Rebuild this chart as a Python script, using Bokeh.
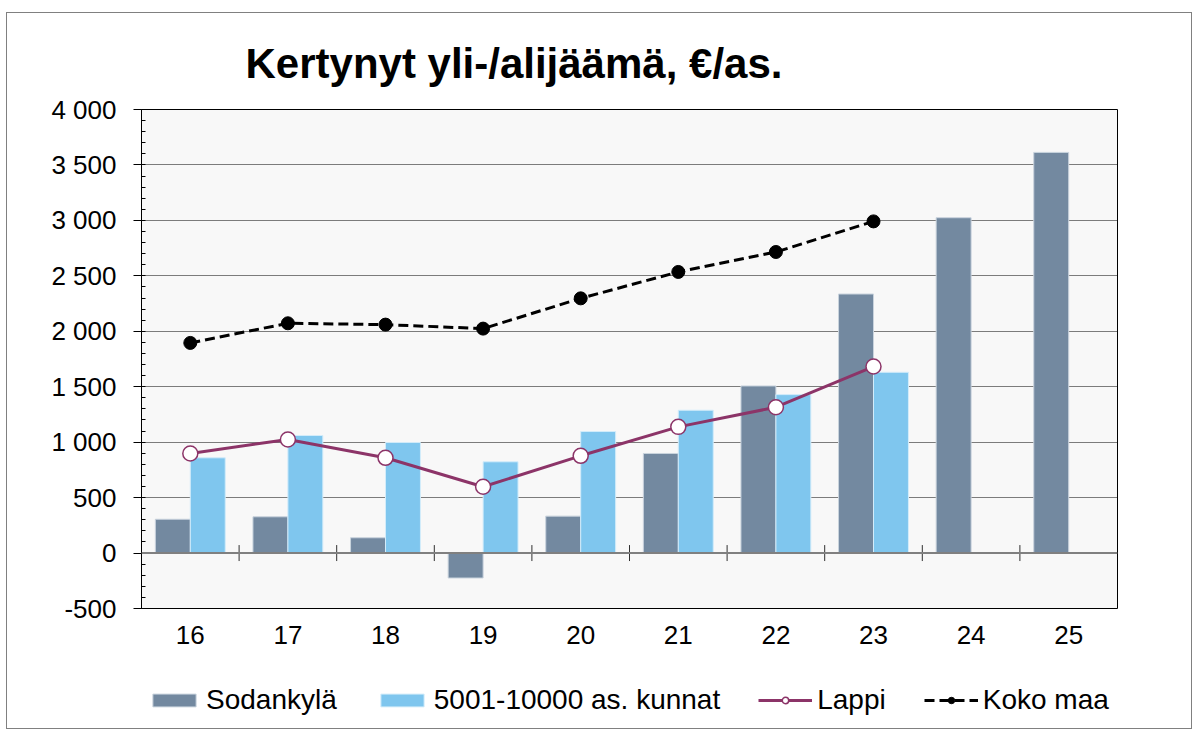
from bokeh.plotting import figure
from bokeh.layouts import column
from bokeh.models import (ColumnDataSource, FactorRange, Range1d, LinearAxis, CategoricalAxis,
                          SingleIntervalTicker, Legend, LegendItem, Title, Grid, Span)
from bokeh.transform import dodge
from bokeh.embed import file_html
from bokeh.resources import INLINE

# ---- data ----
years = ["16", "17", "18", "19", "20", "21", "22", "23", "24", "25"]
sodankyla = [305, 327, 138, -225, 333, 898, 1507, 2336, 3024, 3613]
kunnat_years = ["16", "17", "18", "19", "20", "21", "22", "23"]
kunnat = [859, 1060, 997, 823, 1096, 1288, 1429, 1630]
lappi_years = ["16", "17", "18", "19", "20", "21", "22", "23"]
lappi = [898, 1024, 859, 598, 877, 1138, 1315, 1682]
koko_years = ["16", "17", "18", "19", "20", "21", "22", "23"]
koko_maa = [1895, 2072, 2060, 2024, 2297, 2535, 2715, 2991]
y_ticks = [-500, 0, 500, 1000, 1500, 2000, 2500, 3000, 3500, 4000]
y_tick_labels = ["-500", "0", "500", "1 000", "1 500", "2 000", "2 500", "3 000", "3 500", "4 000"]
series_names = ["Sodankylä", "5001-10000 as. kunnat", "Lappi", "Koko maa"]
title_text = "Kertynyt yli-/alijäämä, €/as."

FONT = "Liberation Sans"
C_SOD = "#7389a0"
C_KUN = "#7fc6ee"
C_LAP = "#8c3468"

p = figure(x_range=FactorRange(*years, range_padding=0), y_range=Range1d(-500, 4000),
           frame_width=976, frame_height=499, output_backend="svg", toolbar_location=None,
           x_axis_type=None, y_axis_type=None,
           min_border_left=134, min_border_right=74, min_border_top=96, min_border_bottom=52,
           background_fill_color="#f8f8f8", border_fill_color="white",
           outline_line_color="black", outline_line_width=1)

# title
p.add_layout(Title(text=title_text, align="left", offset=104, standoff=45,
                   text_font=FONT, text_font_size="42px", text_font_style="bold",
                   text_color="black"), "above")

# y axis
yticker = SingleIntervalTicker(interval=500, num_minor_ticks=5)
yaxis = LinearAxis(ticker=yticker,
                   major_label_overrides={v: s for v, s in zip(y_ticks, y_tick_labels)},
                   major_label_text_font=FONT, major_label_text_font_size="26px",
                   major_label_text_color="black", major_label_standoff=17,
                   major_tick_in=0, major_tick_out=8, minor_tick_in=4, minor_tick_out=0,
                   axis_line_color="black", major_tick_line_color="black",
                   minor_tick_line_color="black")
p.add_layout(yaxis, "left")
p.add_layout(Grid(dimension=1, ticker=yticker, grid_line_color="#000000",
                  grid_line_dash="1 1", grid_line_width=1), "center")

# x axis (labels at the bottom)
xaxis = CategoricalAxis(major_label_text_font=FONT, major_label_text_font_size="26px",
                        major_label_text_color="black", major_label_standoff=17,
                        major_tick_in=0, major_tick_out=0, minor_tick_in=0, minor_tick_out=0,
                        axis_line_color=None)
p.add_layout(xaxis, "below")

# bars
src_s = ColumnDataSource(dict(x=years, top=sodankyla))
src_k = ColumnDataSource(dict(x=kunnat_years, top=kunnat))
bar_s = dict(fill_color=C_SOD, line_color="#c9d3dd", line_width=1)
bar_k = dict(fill_color=C_KUN, line_color="#d3ecfa", line_width=1)
p.vbar(x=dodge("x", -0.179, range=p.x_range), top="top", width=0.358, source=src_s, **bar_s)
p.vbar(x=dodge("x", 0.179, range=p.x_range), top="top", width=0.358, source=src_k, **bar_k)

# zero line with category boundary tick marks
p.add_layout(Span(location=0, dimension="width", line_color="#808080", line_width=2))
src_b = ColumnDataSource(dict(x=years[:-1]))
p.segment(x0=dodge("x", 0.5, range=p.x_range), x1=dodge("x", 0.5, range=p.x_range),
          y0=-72, y1=72, source=src_b, line_color="#303030", line_width=1)

# lines
src_l = ColumnDataSource(dict(x=lappi_years, y=lappi))
src_m = ColumnDataSource(dict(x=koko_years, y=koko_maa))
line_l = dict(line_color=C_LAP, line_width=3)
mark_l = dict(marker="circle", size=15, fill_color="white", line_color=C_LAP, line_width=1.5)
line_m = dict(line_color="black", line_width=3, line_dash="10 5")
mark_m = dict(marker="circle", size=13, fill_color="black", line_color="black")
p.line("x", "y", source=src_l, **line_l)
p.scatter("x", "y", source=src_l, **mark_l)
p.line("x", "y", source=src_m, **line_m)
p.scatter("x", "y", source=src_m, **mark_m)

# legend strip: a second figure whose y-range lies above all data, so only the legend shows
q = figure(width=1184, height=68, output_backend="svg", toolbar_location=None,
           x_axis_type=None, y_axis_type=None,
           x_range=FactorRange(*years, range_padding=0), y_range=Range1d(10000, 10001),
           min_border=0, min_border_left=0, min_border_right=0, min_border_top=0,
           min_border_bottom=0, outline_line_color=None,
           background_fill_color="white", border_fill_color="white")
e_s = q.vbar(x=dodge("x", -0.179, range=q.x_range), top="top", width=0.358, source=src_s, **bar_s)
e_k = q.vbar(x=dodge("x", 0.179, range=q.x_range), top="top", width=0.358, source=src_k, **bar_k)
e_l = q.line("x", "y", source=src_l, **line_l)
e_lm = q.scatter("x", "y", source=src_l, **mark_l)
e_m = q.line("x", "y", source=src_m, **line_m)
e_mm = q.scatter("x", "y", source=src_m, **mark_m)
legend = Legend(items=[LegendItem(label=series_names[0], renderers=[e_s]),
                       LegendItem(label=series_names[1], renderers=[e_k]),
                       LegendItem(label=series_names[2], renderers=[e_l, e_lm]),
                       LegendItem(label=series_names[3], renderers=[e_m, e_mm])],
                orientation="horizontal", location=(6, 12),
                label_text_font=FONT, label_text_font_size="28px", label_text_color="black",
                glyph_width=54, glyph_height=16, label_standoff=5, spacing=38,
                padding=0, margin=0, border_line_color=None, background_fill_alpha=0)
q.add_layout(legend, "center")

layout = column(p, q, spacing=0,
                styles={"border": "1px solid #808080", "margin": "12px 0px 0px 6px"})

open("out.html", "w").write(file_html(layout, INLINE))
